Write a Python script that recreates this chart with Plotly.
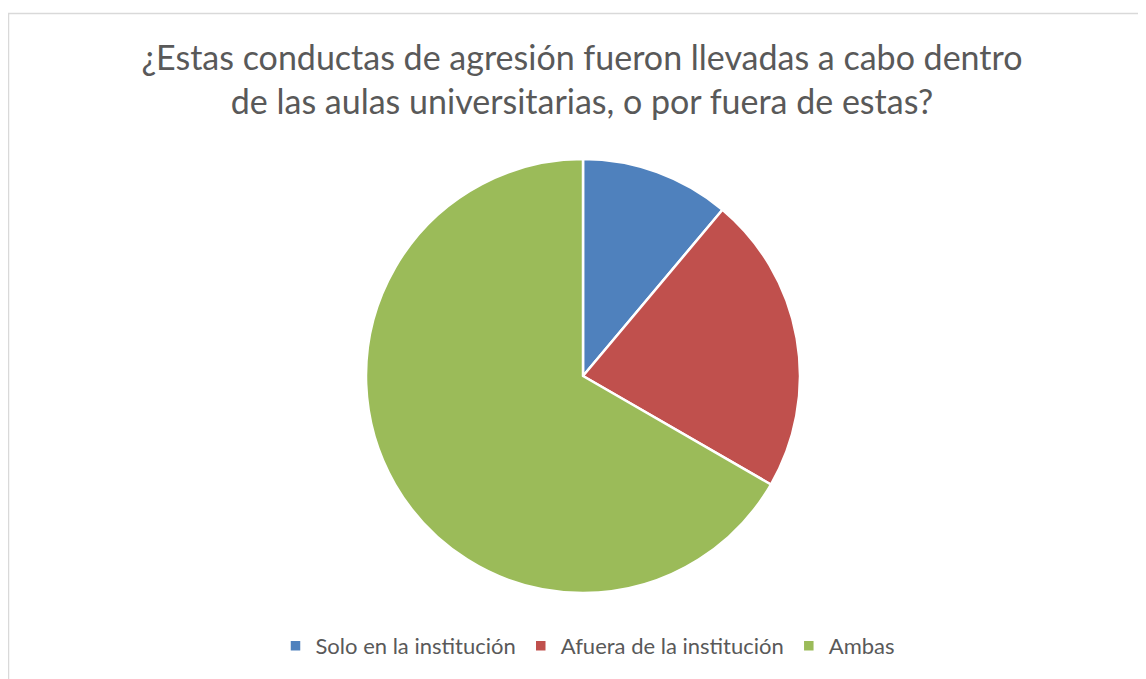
import plotly.graph_objects as go

categories = ["Solo en la institución", "Afuera de la institución", "Ambas"]
values = [1, 2, 6]
colors = ["#4F81BD", "#C0504D", "#9BBB59"]

W, H = 1146, 679
OFF = 8  # page body margin
fig = go.Figure()
fig.add_trace(go.Pie(
    labels=categories,
    values=values,
    sort=False,
    direction="clockwise",
    rotation=0,
    textinfo="none",
    hoverinfo="label+percent",
    marker=dict(colors=colors, line=dict(color="white", width=2.5)),
    domain=dict(x=[(366-OFF)/W, (800-OFF)/W], y=[1-(593-OFF)/H, 1-(159-OFF)/H]),
))

fig.update_layout(
    width=W, height=H,
    margin=dict(l=0, r=0, t=0, b=0),
    paper_bgcolor="white",
    plot_bgcolor="white",
    title=dict(
        text="¿Estas conductas de agresión fueron llevadas a cabo dentro<br>de las aulas universitarias, o por fuera de estas?",
        x=574/W, xanchor="center",
        y=1-62/H, yanchor="middle",
        font=dict(family="Lato", size=34, color="#595959"),
    ),
    legend=dict(
        orientation="h",
        x=580/W, xanchor="center",
        y=1-638/H, yanchor="middle",
        font=dict(family="Lato", size=22, color="#595959"),
        itemclick=False,
    ),
    shapes=[dict(
        type="rect", xref="paper", yref="paper",
        x0=0.5/W, x1=1.02, y0=-0.02, y1=1-5.5/H,
        line=dict(color="#D9D9D9", width=1.5),
        fillcolor="rgba(0,0,0,0)", layer="below",
    )],
)

fig.write_html("out.html")
